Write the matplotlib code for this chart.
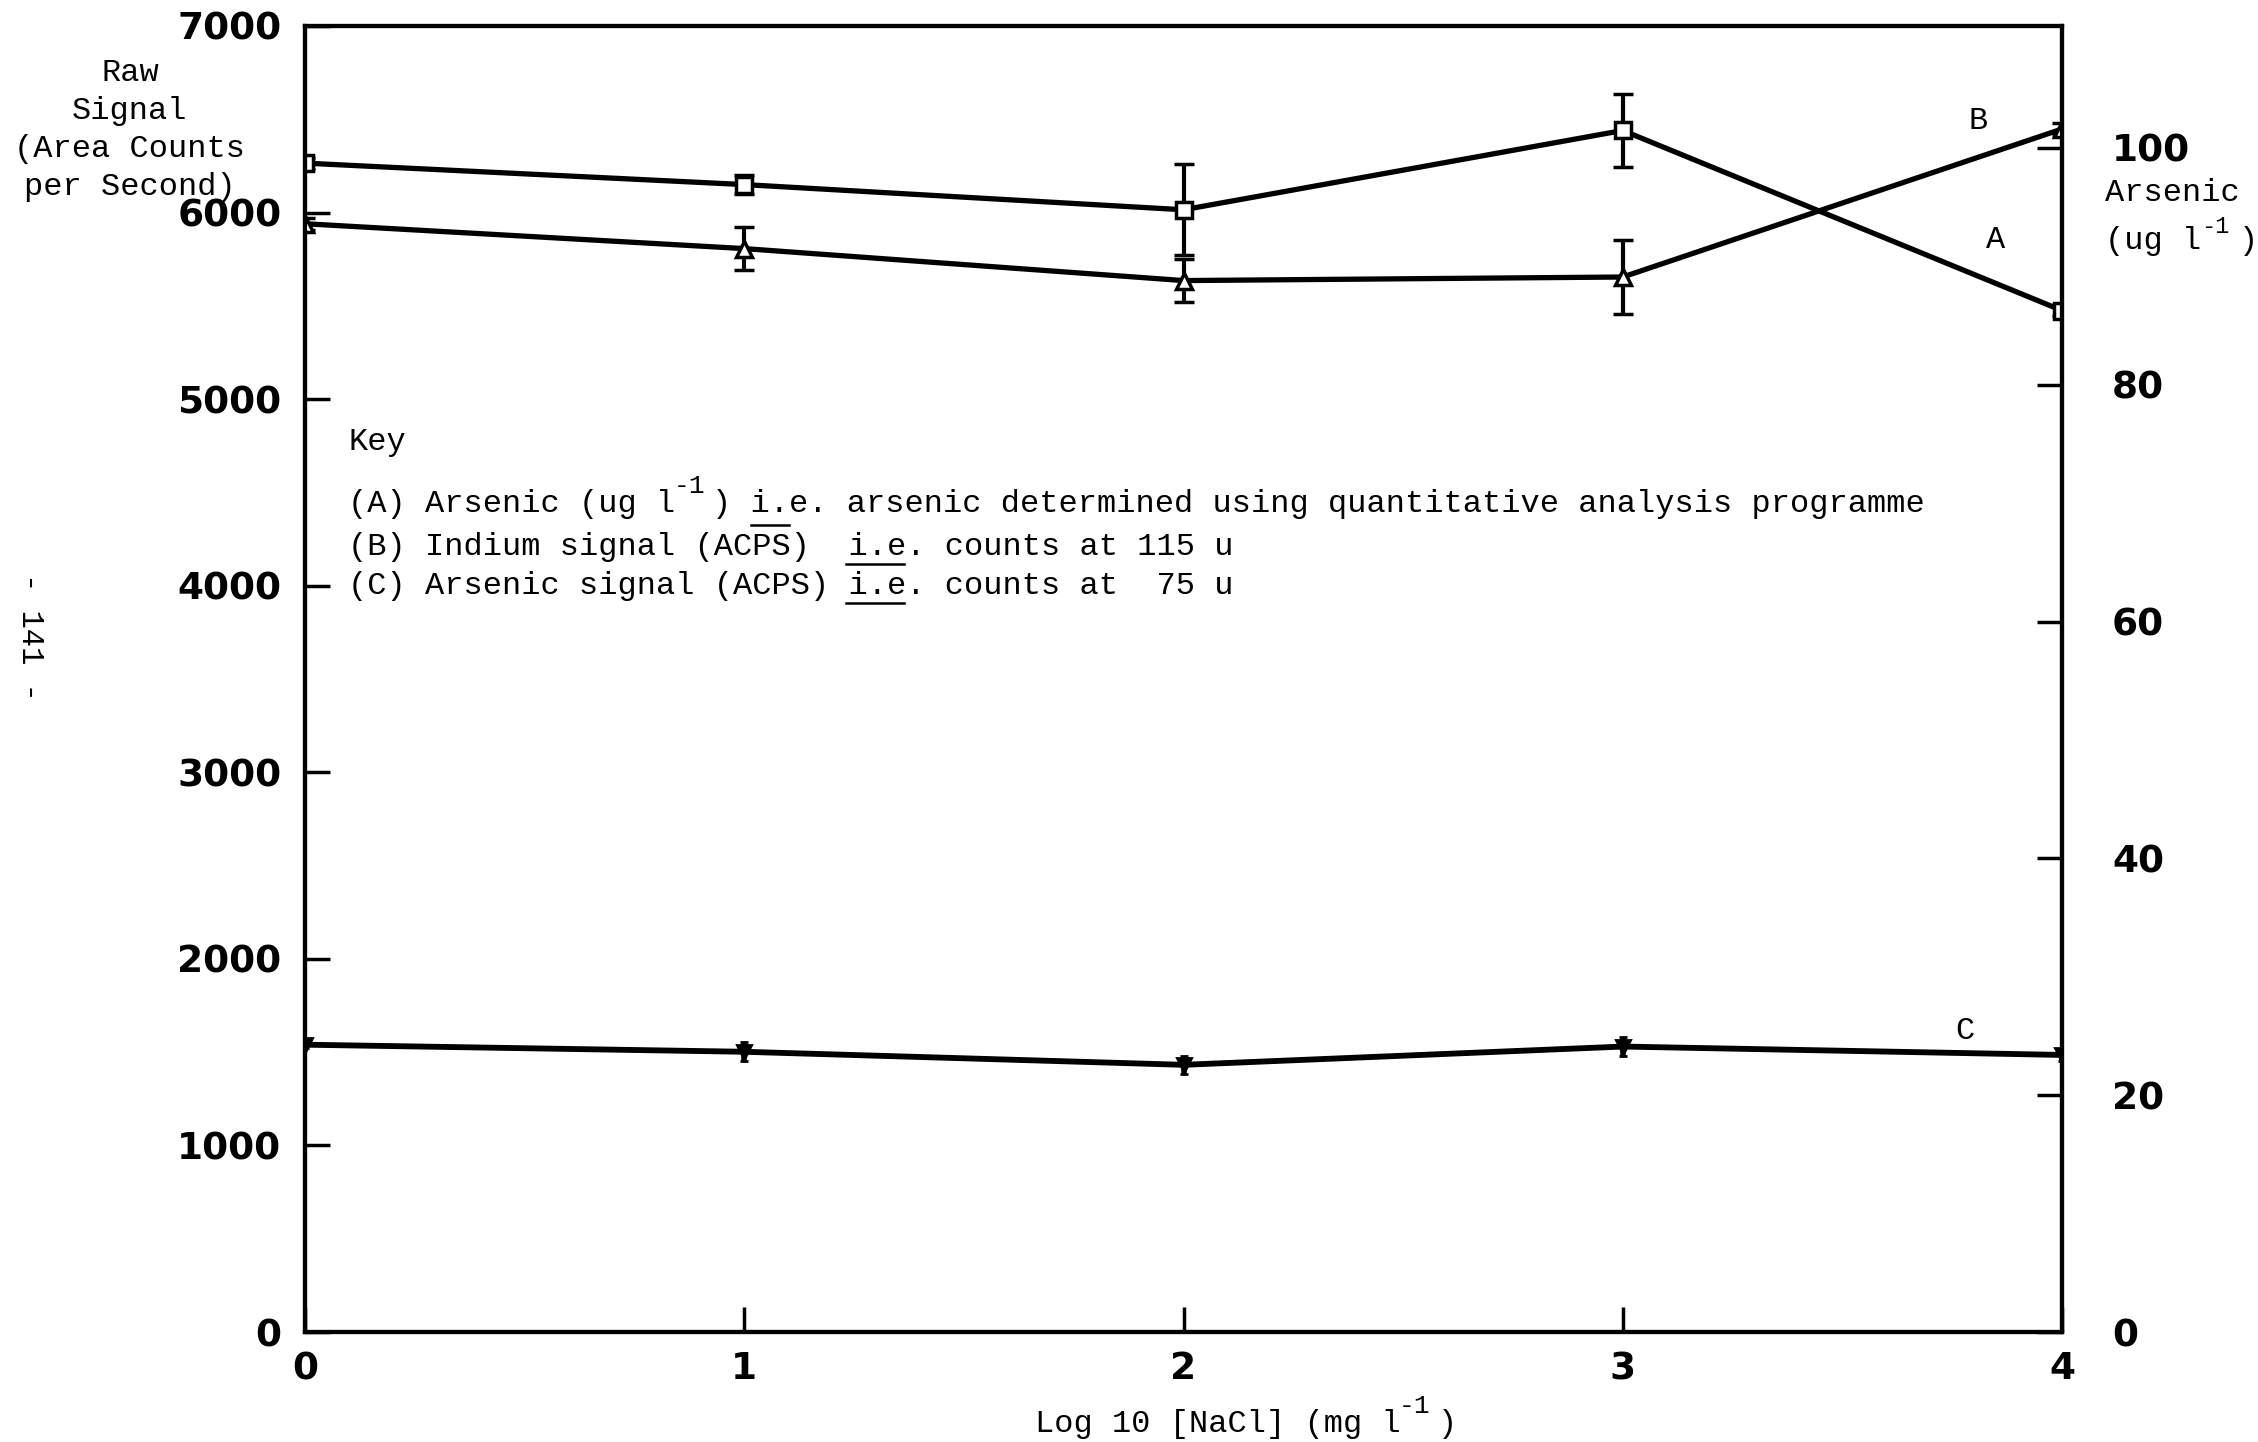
import matplotlib
matplotlib.use('Agg')
import matplotlib.pyplot as plt
from matplotlib.transforms import offset_copy

# data
log_nacl = [0, 1, 2, 3, 4]

# (B) indium signal, ACPS (left axis)
indium = [6265, 6150, 6015, 6440, 5475]
indium_err = [30, 50, 245, 195, 30]

# (A) arsenic, ug/l (right axis)
arsenic = [93.6, 91.5, 88.8, 89.1, 101.6]
arsenic_err = [0.5, 1.8, 1.8, 3.1, 0.5]

# (C) arsenic signal, ACPS (left axis)
as_signal = [1540, 1502, 1432, 1530, 1485]
as_signal_err = [20, 50, 50, 50, 30]

left_ticks = [0, 1000, 2000, 3000, 4000, 5000, 6000, 7000]
right_ticks = [0, 20, 40, 60, 80, 100]

MONO = ['Liberation Mono', 'DejaVu Sans Mono']
FS = 23
CW = 0.6 * FS  # monospace advance, points

fig = plt.figure(figsize=(22.58, 14.42), dpi=100)
ax_pos = [0.13508, 0.07628, 0.77812, 0.90569]
ax = fig.add_axes(ax_pos)
ax2 = ax.twinx()

ax.errorbar(log_nacl, indium, yerr=indium_err, fmt='-s', color='black', lw=3.8,
            ms=11, mfc='white', mew=2.5, elinewidth=3, capsize=7, capthick=3.5)
ax.errorbar(log_nacl, as_signal, yerr=as_signal_err, fmt='-v', color='black', lw=4.2,
            ms=10, mfc='black', mew=2, elinewidth=4, capsize=3, capthick=3)
ax2.errorbar(log_nacl, arsenic, yerr=arsenic_err, fmt='-^', color='black', lw=3.8,
             ms=11, mfc='white', mew=2.5, elinewidth=3, capsize=7, capthick=3.5)

ax.set_xlim(0, 4)
ax.set_ylim(0, 7000)
ax2.set_ylim(0, 110.3)
ax.set_xticks(log_nacl)
ax.set_yticks(left_ticks)
ax2.set_yticks(right_ticks)

for a in (ax, ax2):
    for s in a.spines.values():
        s.set_linewidth(3)
ax.tick_params(axis='x', direction='in', length=18, width=2.5, labelsize=27, pad=14, top=False)
ax.tick_params(axis='y', direction='in', length=18, width=2.5, labelsize=27, pad=17, right=False)
ax2.tick_params(axis='y', direction='in', length=18, width=2.5, labelsize=27, pad=36)
for lbl in ax.get_xticklabels() + ax.get_yticklabels() + ax2.get_yticklabels():
    lbl.set_fontweight('bold')
    lbl.set_family('DejaVu Sans')


def mono(x, y, s, trans, col=0, dy=0, size=FS, **kw):
    tr = offset_copy(trans, fig=fig, x=col * CW, y=dy, units='points')
    return fig.text(x, y, s, transform=tr, fontsize=size, family=MONO, va='center', **kw)


def sup(x, y, col, trans, dy=13, size=19):
    mono(x, y, '-1', trans, col=col, dy=dy, size=size)


# curve labels
ax.text(3.81, 6490, 'B', fontsize=FS, family=MONO, ha='center', va='center')
ax.text(3.85, 5855, 'A', fontsize=FS, family=MONO, ha='center', va='center')
ax.text(3.78, 1615, 'C', fontsize=FS, family=MONO, ha='center', va='center')

# key
T = ax.transAxes
kx = 0.0245
col_frac = CW / 72 * 100 / (ax_pos[2] * 2258)
mono(kx, 0.6815, 'Key', T)
mono(kx, 0.6340, '(A) Arsenic (ug l', T)
sup(kx, 0.6340, 17, T)
mono(kx, 0.6340, ') i.e. arsenic determined using quantitative analysis programme', T, col=19)
mono(kx, 0.6011, '(B) Indium signal (ACPS)  i.e. counts at 115 u', T)
mono(kx, 0.5712, '(C) Arsenic signal (ACPS) i.e. counts at  75 u', T)

# over/underlines in the key
ax.plot([kx + 21 * col_frac, kx + 23 * col_frac], [0.6011 + 0.0168] * 2,
        transform=T, color='black', lw=1.8, clip_on=False)
for yk in (0.6011, 0.5712):
    ax.plot([kx + 26 * col_frac, kx + 29 * col_frac], [yk - 0.013] * 2,
            transform=T, color='black', lw=1.8, clip_on=False)

# axis titles
F = fig.transFigure
fig.text(130 / 2258, 1 - 130 / 1442, 'Raw\nSignal\n(Area Counts\nper Second)',
         fontsize=FS, family=MONO, ha='center', va='center', multialignment='center',
         linespacing=1.36)
mono(2105 / 2258, 1 - 193 / 1442, 'Arsenic', F)
mono(2105 / 2258, 1 - 241 / 1442, '(ug l', F)
sup(2105 / 2258, 1 - 241 / 1442, 5, F, dy=10.5, size=17)
mono(2105 / 2258, 1 - 241 / 1442, ')', F, col=7)
mono(1035 / 2258, 1 - 1424 / 1442, 'Log 10 [NaCl] (mg l', F)
sup(1035 / 2258, 1 - 1424 / 1442, 19, F)
mono(1035 / 2258, 1 - 1424 / 1442, ')', F, col=21)

fig.text(30 / 2258, 1 - 637 / 1442, '- 141 -', rotation=270, fontsize=22,
         family=MONO, ha='center', va='center')

fig.savefig('out.png', dpi=100)
